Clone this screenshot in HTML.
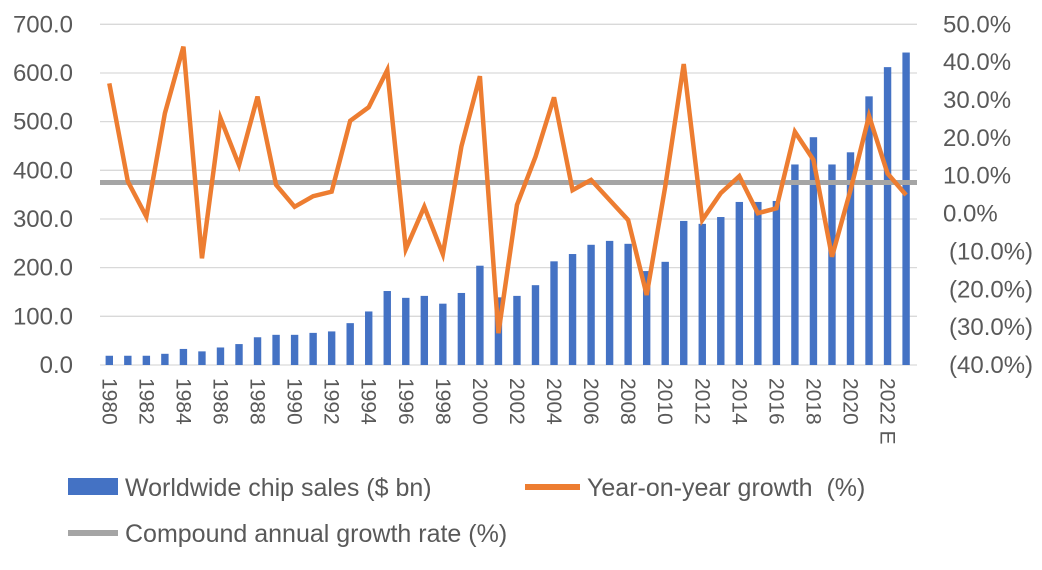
<!DOCTYPE html>
<html><head><meta charset="utf-8"><style>
body{margin:0;background:#fff;width:1042px;height:565px;overflow:hidden;font-family:"Liberation Sans",sans-serif}
</style></head><body>
<svg id="chart" width="1042" height="565" xmlns="http://www.w3.org/2000/svg" font-family="Liberation Sans, sans-serif">
<g id="grid"></g><g id="bars"></g><g id="lines"></g><g id="axes"></g>
<g>
<rect x="68" y="478" width="50" height="17" fill="#4472C4"/>
<text x="125" y="496" font-size="25" fill="#595959">Worldwide chip sales ($ bn)</text>
<line x1="525" y1="487" x2="580" y2="487" stroke="#ED7D31" stroke-width="6"/>
<text x="587" y="496" font-size="25" fill="#595959" xml:space="preserve">Year-on-year growth  (%)</text>
<line x1="68" y1="533" x2="118" y2="533" stroke="#A5A5A5" stroke-width="6"/>
<text x="125" y="542" font-size="25" fill="#595959">Compound annual growth rate (%)</text>
</g>
</svg>
<script>
const years=[1980,1981,1982,1983,1984,1985,1986,1987,1988,1989,1990,1991,1992,1993,1994,1995,1996,1997,1998,1999,2000,2001,2002,2003,2004,2005,2006,2007,2008,2009,2010,2011,2012,2013,2014,2015,2016,2017,2018,2019,2020,2021,2022,2023];
const sales=[19,19,19,23,33,28,36,43,57,62,62,66,69,86,110,152,138,142,126,148,204,139,142,164,213,228,247,255,249,193,212,296,290,304,335,335,337,412,468,412,437,552,612,642];
const growth=[34.4,8.5,-0.8,26.5,44.1,-11.8,25.2,12.8,30.9,7.6,1.8,4.6,5.8,24.5,28.1,37.9,-9.4,1.8,-10.7,17.7,36.3,-31.6,2.3,15.0,30.7,6.2,8.9,3.6,-1.7,-21.5,7.1,39.5,-1.7,5.4,9.9,0.1,1.4,21.6,14.2,-11.4,6.2,25.8,10.6,4.9];
const cagr=8.2;
const leftTicks=[0,100,200,300,400,500,600,700];
const rightTicks=[50,40,30,20,10,0,-10,-20,-30,-40];
const NS="http://www.w3.org/2000/svg";
const x=i=>109.3+i*18.53;
const yL=v=>365-v*(340.7/700);
const yR=p=>213.6-p*3.786;
function mk(tag,attrs,parent,txt){const e=document.createElementNS(NS,tag);for(const k in attrs)e.setAttribute(k,attrs[k]);if(txt!==undefined)e.textContent=txt;document.getElementById(parent).appendChild(e);return e;}
leftTicks.forEach(v=>{
 const g=mk('line',{x1:100,x2:917,y1:yL(v),y2:yL(v),stroke:'#d9d9d9','stroke-width':1.3},'grid');
 
 
 const t=mk('text',{x:73,y:yL(v)+8,'text-anchor':'end','font-size':24,fill:'#595959'},'axes',v.toFixed(1));
 
 
});
rightTicks.forEach(p=>{
 const s=p<0?'('+Math.abs(p).toFixed(1)+'%)':p.toFixed(1)+'%';
 const t=mk('text',{x:p<0?949:943,y:yR(p)+8,'font-size':24,fill:'#595959'},'axes',s);
 
 
});
years.forEach((yr,i)=>{
 const b=mk('rect',{x:x(i)-3.7,y:yL(sales[i]),width:7.4,height:365-yL(sales[i]),fill:'#4472C4'},'bars');
 
 
 if(i%2===0){
  const lab=yr===2022?'2022 E':String(yr);
  const t=mk('text',{x:0,y:0,'font-size':21,fill:'#595959',transform:`translate(${x(i)-7},378) rotate(90)`},'axes',lab);
  
  
 }
});
const c=mk('line',{x1:100,x2:917,y1:yR(cagr),y2:yR(cagr),stroke:'#A5A5A5','stroke-width':5},'lines');


const pts=growth.map((g,i)=>x(i)+','+yR(g)).join(' ');
const pl=mk('polyline',{points:pts,fill:'none',stroke:'#ED7D31','stroke-width':4.5,'stroke-linejoin':'miter'},'lines');


</script>
</body></html>
